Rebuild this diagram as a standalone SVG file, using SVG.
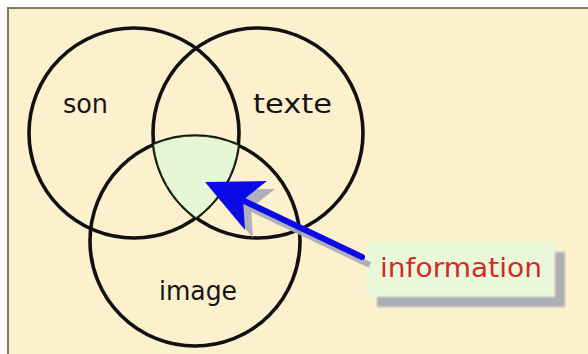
<svg xmlns="http://www.w3.org/2000/svg" width="588" height="354" viewBox="0 0 588 354">
<defs>
<style>
.circ{fill:none;stroke:#111;stroke-width:3.6}
.lbl{font-family:"DejaVu Sans",sans-serif;font-size:26px;fill:#151515}
.info{font-family:"DejaVu Sans",sans-serif;font-size:27px;fill:#d22a2a}
</style>
<filter id="soft" x="-10%" y="-20%" width="120%" height="140%"><feGaussianBlur stdDeviation="1.2"/></filter>
</defs>
<rect x="0" y="0" width="588" height="354" fill="#ffffff"/>
<rect x="8" y="8" width="590" height="360" fill="#fdf0cd" stroke="#85775a" stroke-width="2"/>
<g id="son"><circle class="circ" cx="134" cy="133" r="105"/><text class="lbl" x="63" y="113" textLength="45" lengthAdjust="spacingAndGlyphs">son</text></g>
<g id="texte"><circle class="circ" cx="258" cy="133" r="105"/><text class="lbl" x="253" y="113" textLength="79" lengthAdjust="spacingAndGlyphs">texte</text></g>
<g id="image"><circle class="circ" cx="195" cy="241" r="105"/><text class="lbl" x="159" y="300" textLength="78" lengthAdjust="spacingAndGlyphs">image</text></g>
<g id="intersection"><path d="M153.6,144.5 A105,105 0 0 1 238.3,145.3 A105,105 0 0 1 196,217.7 A105,105 0 0 1 153.6,144.5 Z" fill="#e6f7d6" stroke="#2d3d1d" stroke-width="1"/></g>
<g id="information">
<rect x="377" y="252" width="188" height="55" fill="#adadb5" filter="url(#soft)"/>
<rect x="367" y="242" width="188" height="55" fill="#e8f8d9" filter="url(#soft)"/>
<text class="info" x="380" y="277" textLength="162" lengthAdjust="spacingAndGlyphs">information</text>
</g>
<g id="connectors">
<g transform="translate(8,8)" fill="#a9a9b8" stroke="#a9a9b8" opacity="0.9">
<line x1="362" y1="257" x2="240" y2="199" stroke-width="6"/>
<polygon points="205,182 267,181 243,200 245,230" stroke="none"/>
</g>
<g fill="#0b0be8" stroke="#0b0be8">
<line x1="362" y1="257" x2="240" y2="199" stroke-width="6" stroke-linecap="round"/>
<polygon points="205,182 267,181 243,200 245,230" stroke="none"/>
</g>
</g>
</svg>
